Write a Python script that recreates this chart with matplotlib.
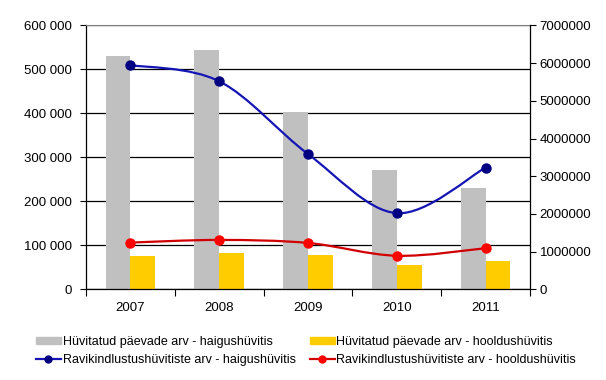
import matplotlib
matplotlib.use("Agg")
import matplotlib.pyplot as plt
from matplotlib.path import Path
from matplotlib.patches import PathPatch
from matplotlib.lines import Line2D
from matplotlib.ticker import FuncFormatter, FixedLocator

plt.rcParams['font.family'] = ['Liberation Sans', 'DejaVu Sans']
plt.rcParams['font.size'] = 9.5

years = ['2007', '2008', '2009', '2010', '2011']
days_haigus = [530000, 544000, 403000, 271000, 230000]
days_hooldus = [75700, 82500, 78000, 55200, 65000]
count_haigus = [5950000, 5520000, 3590000, 2020000, 3230000]
count_hooldus = [1240000, 1310000, 1230000, 890000, 1090000]

lbl_days_haigus = 'Hüvitatud päevade arv - haigushüvitis'
lbl_days_hooldus = 'Hüvitatud päevade arv - hooldushüvitis'
lbl_count_haigus = 'Ravikindlustushüvitiste arv - haigushüvitis'
lbl_count_hooldus = 'Ravikindlustushüvitiste arv - hooldushüvitis'

GRAY = '#C0C0C0'
YELLOW = '#FFCC00'


def smooth_path(xs, ys):
    # catmull-rom style bezier, like excel smoothed lines
    pts = list(zip(xs, ys))
    verts = [pts[0]]
    codes = [Path.MOVETO]
    n = len(pts)
    for i in range(n - 1):
        p0 = pts[i - 1] if i > 0 else pts[i]
        p1 = pts[i]
        p2 = pts[i + 1]
        p3 = pts[i + 2] if i + 2 < n else pts[i + 1]
        c1 = (p1[0] + (p2[0] - p0[0]) / 6, p1[1] + (p2[1] - p0[1]) / 6)
        c2 = (p2[0] - (p3[0] - p1[0]) / 6, p2[1] - (p3[1] - p1[1]) / 6)
        verts += [c1, c2, p2]
        codes += [Path.CURVE4] * 3
    return Path(verts, codes)


fig = plt.figure(figsize=(6.06, 3.80), dpi=100)
ax = fig.add_axes([0.1419, 0.2387, 0.8746 - 0.1419, 0.9329 - 0.2387])
ax2 = ax.twinx()

x = list(range(len(years)))
w = 0.28
ax.bar([i - w / 2 for i in x], days_haigus, width=w, color=GRAY, zorder=2)
ax.bar([i + w / 2 for i in x], days_hooldus, width=w, color=YELLOW, zorder=2)

ax.set_xlim(-0.5, len(years) - 0.5)
ax.set_ylim(0, 600000)
ax.set_yticks(range(0, 600001, 100000))
ax.yaxis.set_major_formatter(FuncFormatter(lambda v, p: f'{int(v):,}'.replace(',', ' ')))
ax.set_axisbelow(True)
ax.yaxis.grid(True, color='black', linewidth=0.9)

ax.xaxis.set_major_locator(FixedLocator([i - 0.5 for i in range(len(years) + 1)]))
ax.xaxis.set_major_formatter(FuncFormatter(lambda v, p: ''))
ax.set_xticks(x, minor=True)
ax.set_xticklabels(years, minor=True)
ax.tick_params(axis='x', which='minor', length=0, pad=9)
ax.tick_params(axis='x', which='major', length=5, direction='out', width=0.8)
ax.tick_params(axis='y', length=4, width=0.8, pad=6)

for s in ['left', 'bottom']:
    ax.spines[s].set_color('black')
    ax.spines[s].set_linewidth(0.9)
ax.spines['top'].set_color('#808080')
ax.spines['top'].set_linewidth(0.8)
ax.spines['right'].set_visible(False)

ax2.set_ylim(0, 7000000)
ax2.set_yticks(range(0, 7000001, 1000000))
ax2.yaxis.set_major_formatter(FuncFormatter(lambda v, p: f'{int(v)}'))
ax2.tick_params(axis='y', length=4, width=0.8, pad=3)
ax2.spines['right'].set_color('black')
ax2.spines['right'].set_linewidth(0.9)
for s in ['left', 'top', 'bottom']:
    ax2.spines[s].set_visible(False)

series = [
    (count_haigus, '#1515B5', '#000080'),
    (count_hooldus, '#D00000', '#FF0000'),
]
for vals, lc, mc in series:
    ax2.add_patch(PathPatch(smooth_path(x, vals), facecolor='none', edgecolor=lc,
                            linewidth=1.6, zorder=3))
    ax2.plot(x, vals, linestyle='none', marker='o', markersize=6.5,
             color=mc, zorder=4)

handles = [
    plt.Rectangle((0, 0), 1, 1, color=GRAY),
    Line2D([], [], color='#1515B5', lw=1.6, marker='o', markersize=5,
           markerfacecolor='#000080', markeredgecolor='#000080'),
    plt.Rectangle((0, 0), 1, 1, color=YELLOW),
    Line2D([], [], color='#D00000', lw=1.6, marker='o', markersize=5,
           markerfacecolor='#FF0000', markeredgecolor='#FF0000'),
]
labels = [lbl_days_haigus, lbl_count_haigus, lbl_days_hooldus, lbl_count_hooldus]
fig.legend(handles, labels, ncol=2, loc='center', bbox_to_anchor=(0.505, 0.077),
           frameon=False, fontsize=9, handlelength=2.0, handleheight=0.45,
           handletextpad=0.15, columnspacing=1.1, labelspacing=0.45,
           borderaxespad=0)

fig.savefig('out.png', dpi=100, facecolor='white')
